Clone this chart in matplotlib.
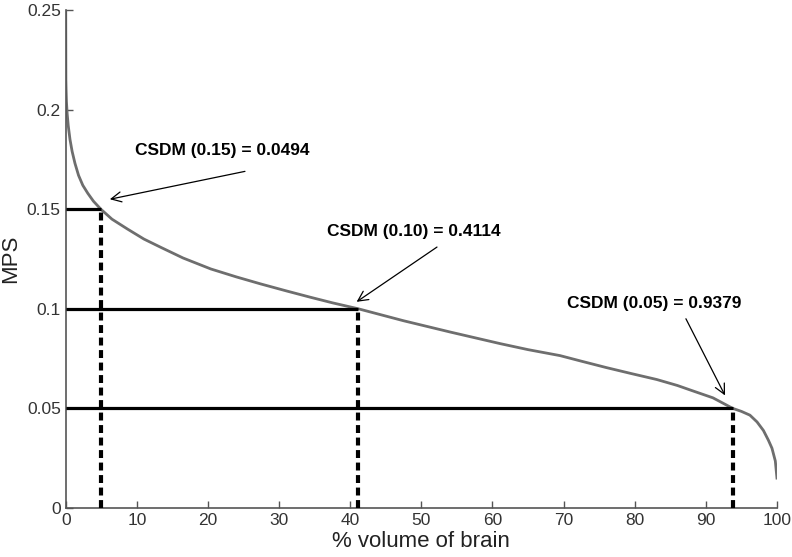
import matplotlib
matplotlib.use('Agg')
import matplotlib.pyplot as plt

# curve (% volume of brain vs MPS)
vol_pct = [0, 0.02, 0.05, 0.1, 0.2, 0.35, 0.6, 0.9, 1.3, 1.8, 2.4, 3.1, 3.9,
           4.94, 6.5, 8.7, 11, 13.4, 16.5, 20.4, 24, 27.4, 31, 34.4, 37.5,
           41.14, 47.5, 54.1, 61.1, 65, 69.5, 72.5, 76, 79.5, 83.1, 86, 88,
           91, 93.79, 95, 96.2, 97.2, 98.1, 98.8, 99.3, 99.77, 100]
mps = [0.25, 0.215, 0.21, 0.204, 0.198, 0.192, 0.185, 0.179, 0.173, 0.167,
       0.162, 0.158, 0.154, 0.15, 0.145, 0.14, 0.135, 0.1308, 0.1255, 0.12,
       0.116, 0.1125, 0.109, 0.1058, 0.103, 0.1, 0.094, 0.0883, 0.0825,
       0.0795, 0.0765, 0.0737, 0.0705, 0.0675, 0.0645, 0.0615, 0.059, 0.0553,
       0.05, 0.0485, 0.0466, 0.0432, 0.0389, 0.034, 0.030, 0.0236, 0.015]

# thresholds and CSDM values
thresholds = [0.15, 0.10, 0.05]
csdm = [0.0494, 0.4114, 0.9379]
labels = ['CSDM (0.15) = 0.0494', 'CSDM (0.10) = 0.4114', 'CSDM (0.05) = 0.9379']
text_pos = [(9.7, 0.1795), (36.7, 0.139), (70.5, 0.1025)]
arrow_tail = [(25.2, 0.169), (52.2, 0.131), (87.2, 0.095)]
arrow_head = [(6.2, 0.155), (40.9, 0.1035), (92.7, 0.0565)]

plt.rcParams['font.family'] = ['Liberation Sans', 'DejaVu Sans']

fig = plt.figure(figsize=(7.92, 5.57), dpi=100)
ax = fig.add_axes([0.083, 0.088, 0.898, 0.894])

ax.plot(vol_pct, mps, color='#6e6e6e', lw=2.0, zorder=2)

for t, c in zip(thresholds, csdm):
    ax.plot([0, c*100], [t, t], color='black', lw=2.3, solid_capstyle='butt', zorder=3)
    ax.plot([c*100, c*100], [0, t], color='black', lw=3.0,
            linestyle=(0, (1.9, 1.1)), zorder=3)

for lab, tp, tail, head in zip(labels, text_pos, arrow_tail, arrow_head):
    ax.text(tp[0], tp[1], lab, fontsize=12.5, fontweight='bold',
            ha='left', va='center')
    ax.annotate('', xy=head, xytext=tail,
                arrowprops=dict(arrowstyle='->', color='black', lw=0.9,
                                mutation_scale=18, shrinkA=0, shrinkB=0))

ax.set_xlim(0, 100)
ax.set_ylim(0, 0.25)
ax.set_xticks(range(0, 101, 10))
ax.set_yticks([0, 0.05, 0.1, 0.15, 0.2, 0.25])
ax.set_yticklabels(['0', '0.05', '0.1', '0.15', '0.2', '0.25'])

for s in ['top', 'right']:
    ax.spines[s].set_visible(False)
for s in ['left', 'bottom']:
    ax.spines[s].set_color('#555555')
    ax.spines[s].set_linewidth(1.2)
ax.tick_params(direction='in', length=5, width=1, color='#555555',
               labelsize=12.5, labelcolor='#333333')

ax.set_xlabel('% volume of brain', fontsize=16, color='#222222', labelpad=2)
ax.set_ylabel('MPS', fontsize=16, color='#222222')
ax.yaxis.set_label_coords(-0.063, 0.5)

fig.savefig('out.png', dpi=100)
